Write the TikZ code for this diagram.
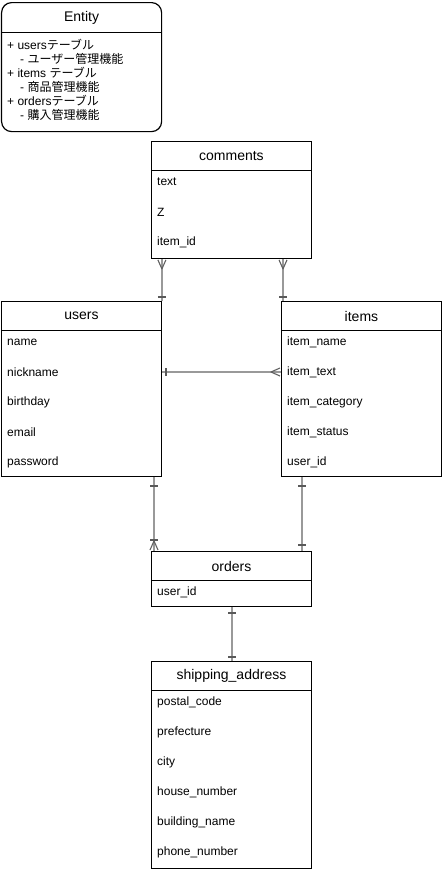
\documentclass[tikz,border=0pt]{standalone}
\usepackage{fontspec}
\setmainfont{Liberation Sans}
\newfontfamily\jpfont{Noto Sans CJK JP}
\usetikzlibrary{calc}

\tikzset{
  tbl/.style={draw, line width=0.9pt, anchor=north west, minimum width=160pt, inner sep=0pt},
  ttl/.style={font=\fontsize{14}{16}\selectfont},
  fld/.style={anchor=west, font=\fontsize{12}{14}\selectfont, inner sep=0pt},
  rel/.style={draw=gray!80, line width=2pt},
  tick/.style={draw=gray!70!black, line width=1.4pt},
  foot/.style={draw=gray!75!black, line width=1.1pt, line join=round},
}

\begin{document}
\begin{tikzpicture}[x=1pt,y=-1pt]
  \useasboundingbox (0,0) rectangle (442,870);

  % entity note
  \node [draw, line width=1.2pt, rounded corners=10pt, anchor=north west,
         minimum width=160pt, minimum height=129pt, inner sep=0pt] (entity) at (1,2) {};
  \draw [line width=0.9pt] ($(entity.north west)+(0,30)$) -- ++(160,0);
  \node [ttl] at ($(entity.north)+(0,15.5)$) {Entity};
  \node [fld] at ($(entity.north west)+(6,43)$) {+ users{\jpfont テーブル}};
  \node [fld] at ($(entity.north west)+(19,57)$) {- {\jpfont ユーザー管理機能}};
  \node [fld] at ($(entity.north west)+(6,71)$) {+ items {\jpfont テーブル}};
  \node [fld] at ($(entity.north west)+(19,85)$) {- {\jpfont 商品管理機能}};
  \node [fld] at ($(entity.north west)+(6,99)$) {+ orders{\jpfont テーブル}};
  \node [fld] at ($(entity.north west)+(19,113)$) {- {\jpfont 購入管理機能}};

  % tables
  \node [tbl, minimum height=117pt] (comments) at (151,141) {};
  \node [tbl, minimum height=175pt] (users) at (1,301) {};
  \node [tbl, minimum height=175pt] (items) at (281,301) {};
  \node [tbl, minimum height=55pt] (orders) at (151,551) {};
  \node [tbl, minimum height=207pt] (shipaddr) at (151,661) {};

  \foreach \t/\n in {comments/comments, users/users, items/items,
                     orders/orders, shipaddr/shipping\_address} {
    \draw [line width=0.9pt] ($(\t.north west)+(0,29)$) -- ++(160,0);
    \node [ttl] at ($(\t.north)+(0,15)$) {\n};
  }

  \foreach \f [count=\i] in {text, Z, item\_id}
    \node [fld] at ($(comments.north west)+(6,11+30*\i)$) {\f};
  \foreach \f [count=\i] in {name, nickname, birthday, email, password}
    \node [fld] at ($(users.north west)+(6,11+30*\i)$) {\f};
  \foreach \f [count=\i] in {item\_name, item\_text, item\_category, item\_status, user\_id}
    \node [fld] at ($(items.north west)+(6,11+30*\i)$) {\f};
  \node [fld] at ($(orders.north west)+(6,41)$) {user\_id};
  \foreach \f [count=\i] in {postal\_code, prefecture, city, house\_number,
                             building\_name, phone\_number}
    \node [fld] at ($(shipaddr.north west)+(6,11+30*\i)$) {\f};

  % relations
  \coordinate (cu) at (users.north east |- comments.south);
  \coordinate (ci) at ($(items.north west)+(2,0)$);
  \coordinate (ci0) at (ci |- comments.south);
  \coordinate (iu) at ($(items.north west)+(0,71)$);
  \coordinate (ui) at ($(users.north east)+(0,71)$);
  \coordinate (uo) at ($(users.south west)+(153,0)$);
  \coordinate (uo1) at (uo |- orders.north);
  \coordinate (io) at ($(items.south west)+(21,0)$);
  \coordinate (io1) at (io |- orders.north);
  \coordinate (os) at ($(orders.south)+(1,0)$);
  \coordinate (os1) at (os |- shipaddr.north);

  \draw [rel] (cu) -- (users.north east);
  \draw [rel] (ci0) -- (ci);
  \draw [rel] (ui) -- (iu);
  \draw [rel] (uo) -- (uo1);
  \draw [rel] (io) -- (io1);
  \draw [rel] (os) -- (os1);

  % crow's feet
  \draw [foot] ($(cu)+(-4,1)$) -- ($(cu)+(0,10)$) -- ($(cu)+(4,1)$);
  \draw [foot] ($(ci0)+(-4,1)$) -- ($(ci0)+(0,10)$) -- ($(ci0)+(4,1)$);
  \draw [foot] ($(iu)+(-1,-4)$) -- ($(iu)+(-10,0)$) -- ($(iu)+(-1,4)$);
  \draw [foot] ($(uo1)+(-4,-1)$) -- ($(uo1)+(0,-10)$) -- ($(uo1)+(4,-1)$);

  % bars
  \draw [tick] ($(users.north east)+(-4,-4)$) -- ++(8,0);
  \draw [tick] ($(ci)+(-4,-4)$) -- ++(8,0);
  \draw [tick] ($(ui)+(4,-4)$) -- ++(0,8);
  \draw [tick] ($(uo)+(-4,9)$) -- ++(8,0);
  \draw [tick] ($(uo1)+(-4,-11)$) -- ++(8,0);
  \draw [tick] ($(io)+(-4,9)$) -- ++(8,0);
  \draw [tick] ($(io1)+(-4,-6)$) -- ++(8,0);
  \draw [tick] ($(os)+(-4,6)$) -- ++(8,0);
  \draw [tick] ($(os1)+(-4,-4)$) -- ++(8,0);
\end{tikzpicture}
\end{document}
